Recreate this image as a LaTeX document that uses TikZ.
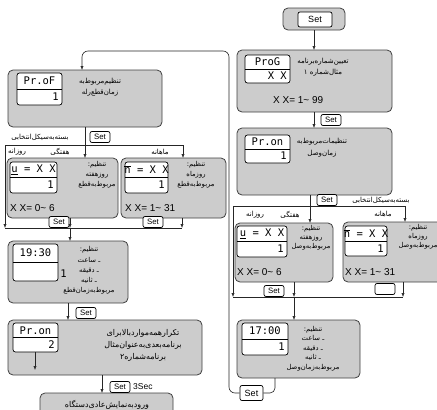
\documentclass[tikz,border=0pt]{standalone}
\usepackage{fontspec}
\setmainfont{Liberation Sans}
\newfontfamily\fafont[Script=Arabic]{DejaVu Sans}
\newfontfamily\segfont{DejaVu Sans Mono}
\TeXXeTstate=1
\usetikzlibrary{arrows.meta}
\newcommand\RL[1]{\beginR #1\endR}
\begin{document}
\begin{tikzpicture}[x=1pt,y=-1pt,
 panel/.style={draw=black!75, fill=black!20, rounded corners=5pt, line width=0.8pt, inner sep=0pt, outer sep=0pt},
 disp/.style={draw=black, fill=white, rounded corners=2.5pt, line width=0.7pt, inner sep=0pt, outer sep=0pt},
 setbox/.style={draw=black, fill=white, rounded corners=2pt, line width=0.7pt, inner sep=0pt, minimum width=20pt, minimum height=11pt, font=\fontsize{7.8}{8}\selectfont},
 conn/.style={line width=0.6pt, draw=black!85},
 arr/.style={conn, -{Latex[length=4pt,width=3.2pt]}},
 fa/.style={font=\fafont\fontsize{7}{10}\selectfont, align=center, inner sep=0pt},
 fab/.style={font=\fafont\fontsize{8}{12}\selectfont, align=center, inner sep=0pt},
 seg/.style={font=\segfont\fontsize{10.5}{12}\selectfont, inner sep=0pt},
 val/.style={font=\fontsize{10}{11}\selectfont, inner sep=0pt, anchor=west},
 divl/.style={line width=0.7pt, draw=black},
]
\clip (0,0) rectangle (437,410);
\useasboundingbox (0,0) rectangle (437,410);

% ---------- panels ----------
\node[panel, minimum width=62pt, minimum height=22pt] (topset) at (314,19) {};
\node[panel, minimum width=155pt, minimum height=62pt] (proG) at (314.5,81) {};
\node[panel, minimum width=155pt, minimum height=67pt] (pron) at (314.5,161.5) {};
\node[panel, minimum width=98pt, minimum height=59pt] (wkR) at (284,252.5) {};
\node[panel, minimum width=102pt, minimum height=60pt] (moR) at (394,252) {};
\node[panel, minimum width=123pt, minimum height=58pt] (c1700) at (298.5,349) {};
\node[panel, minimum width=154pt, minimum height=57pt] (proF) at (85,98.5) {};
\node[panel, minimum width=111pt, minimum height=60pt] (wkL) at (62.5,188) {};
\node[panel, minimum width=105pt, minimum height=60pt] (moL) at (173.5,188) {};
\node[panel, minimum width=120pt, minimum height=62pt] (c1930) at (68,272) {};
\node[panel, minimum width=194pt, minimum height=55pt] (pron2) at (105,347.5) {};
\node[panel, minimum width=133pt, minimum height=30pt] (fin) at (106.5,408) {};

% ---------- displays ----------
\node[disp, minimum width=45pt, minimum height=28pt] (dproG) at (267.5,69) {};
\node[disp, minimum width=45pt, minimum height=28pt] (dpron) at (267.5,149) {};
\node[disp, minimum width=50pt, minimum height=31pt] (dwkR) at (262,241.5) {};
\node[disp, minimum width=42pt, minimum height=30pt] (dmoR) at (366,241) {};
\node[disp, minimum width=46pt, minimum height=32pt] (d1700) at (265,339) {};
\node[disp, minimum width=45pt, minimum height=32pt] (dproF) at (39.5,89) {};
\node[disp, minimum width=47pt, minimum height=31pt] (dwkL) at (33.5,177.5) {};
\node[disp, minimum width=43pt, minimum height=31pt] (dmoL) at (146.5,177.5) {};
\node[disp, minimum width=45pt, minimum height=37pt] (d1930) at (35.5,262.5) {};
\node[disp, minimum width=45pt, minimum height=29pt] (dpron2) at (35.5,337.5) {};
\foreach \d in {dproG,dpron,dwkR,dmoR,d1700,dproF,dwkL,dmoL,d1930,dpron2}
  \draw[divl] (\d.west) -- (\d.east);

% display texts
\node[seg] (g1) at (267.5,62) {ProG};
\node[seg, anchor=east] (g2) at (287,76) {X X};
\node[seg] (g3) at (267.5,142) {Pr.on};
\node[seg, anchor=east] (g4) at (287,156) {1};
\node[seg] (g5) at (262,234) {\underline{u} = X X};
\node[seg, anchor=east] (g6) at (284,249) {1};
\node[seg] (g7) at (366,233.5) {$\overline{\mbox{n}}$ = X X};
\node[seg, anchor=east] (g8) at (384,248.5) {1};
\node[seg] (g9) at (265,331) {17:00};
\node[seg, anchor=east] (g10) at (285,347) {1};
\node[seg] (g11) at (39.5,81) {Pr.oF};
\node[seg, anchor=east] (g12) at (59,97) {1};
\node[seg] (g13) at (33.5,170) {\underline{u} = X X};
\node[seg, anchor=east] (g14) at (54,185) {1};
\node[seg] (g15) at (146.5,170) {$\overline{\mbox{n}}$ = X X};
\node[seg, anchor=east] (g16) at (165,185) {1};
\node[seg] (g17) at (35.5,253) {19:30};
\node[seg, anchor=east] (g18) at (67,274) {1};
\node[seg] (g19) at (35.5,330.5) {Pr.on};
\node[seg, anchor=east] (g20) at (55,345) {2};

% range values
\node[val] (v1) at (273,100) {X X= 1\textasciitilde\ 99};
\node[val] (v2) at (237,272) {X X= 0\textasciitilde\ 6};
\node[val] (v3) at (345,272) {X X= 1\textasciitilde\ 31};
\node[val] (v4) at (10,208) {X X= 0\textasciitilde\ 6};
\node[val] (v5) at (125,208) {X X= 1\textasciitilde\ 31};

% persian texts
\node[fa, font=\fafont\fontsize{7}{11}\selectfont] (t1) at (323,67.5) {\RL{تعیین^^^^200cشماره^^^^200cبرنامه}\\\RL{مثال^^^^200cشماره ۱}};
\node[fa, font=\fafont\fontsize{7}{12}\selectfont] (t2) at (322,148) {\RL{تنظیمات^^^^200cمربوط^^^^200cبه}\\\RL{زمان^^^^200cوصل}};
\node[fa, font=\fafont\fontsize{7}{11}\selectfont] (t3) at (100,87) {\RL{تنظیم^^^^200cمربوط^^^^200cبه}\\\RL{زمان^^^^200cقطع^^^^200cرله}};
\node[fa] (t4) at (381,200) {\RL{بسته^^^^200cبه^^^^200cسیکل^^^^200cانتخابی}};
\node[fa] (t5) at (40,137) {\RL{بسته^^^^200cبه^^^^200cسیکل^^^^200cانتخابی}};
\node[fa] (t6) at (383,214) {\RL{ماهانه}};
\node[fa] (t7) at (290,215) {\RL{هفتگی}};
\node[fa] (t8) at (255,215) {\RL{روزانه}};
\node[fa] (t9) at (160,152) {\RL{ماهانه}};
\node[fa] (t10) at (60,152) {\RL{هفتگی}};
\node[fa] (t11) at (17,152) {\RL{روزانه}};
\node[fa, font=\fafont\fontsize{6.8}{9}\selectfont] (t12) at (311,238) {\RL{تنظیم:}\\\RL{روزهفته}\\\RL{مربوط^^^^200cبه^^^^200cوصل}};
\node[fa, font=\fafont\fontsize{6.8}{9}\selectfont] (t13) at (418,237) {\RL{تنظیم:}\\\RL{روزماه}\\\RL{مربوط^^^^200cبه^^^^200cوصل}};
\node[fa, font=\fafont\fontsize{6.8}{10}\selectfont] (t14) at (97,175) {\RL{تنظیم:}\\\RL{روزهفته}\\\RL{مربوط^^^^200cبه^^^^200cقطع}};
\node[fa, font=\fafont\fontsize{6.8}{10}\selectfont] (t15) at (196,175) {\RL{تنظیم:}\\\RL{روزماه}\\\RL{مربوط^^^^200cبه^^^^200cقطع}};
\node[fa, font=\fafont\fontsize{6.8}{9.6}\selectfont] (t16) at (313,348.5) {\RL{تنظیم:}\\\RL{ـ ساعت}\\\RL{ـ دقیقه}\\\RL{ـ ثانیه}\\\RL{مربوط^^^^200cبه^^^^200cزمان^^^^200cوصل}};
\node[fa, font=\fafont\fontsize{6.8}{10.2}\selectfont] (t17) at (89,270.5) {\RL{تنظیم:}\\\RL{ـ ساعت}\\\RL{ـ دقیقه}\\\RL{ـ ثانیه}\\\RL{مربوط^^^^200cبه^^^^200cزمان^^^^200cقطع}};
\node[fab] (t18) at (143,345) {\RL{تکرار^^^^200cهمه^^^^200cموارد^^^^200cبالا^^^^200cبرای}\\\RL{برنامه^^^^200cبعدی^^^^200cبه^^^^200cعنوان^^^^200cمثال}\\\RL{برنامه^^^^200cشماره۲}};
\node[fab] (t19) at (107,405) {\RL{ورود^^^^200cبه^^^^200cنمایش^^^^200cعادی^^^^200cدستگاه}};
\node[font=\fontsize{8.5}{9}\selectfont, inner sep=0pt, anchor=west] (t20) at (133,387) {3Sec};

% ---------- set boxes ----------
\node[setbox, minimum width=34pt, minimum height=15pt, font=\fontsize{9}{10}\selectfont] (s1) at (315,19.5) {Set};
\node[setbox] (s2) at (331,120) {Set};
\node[setbox] (s3) at (327,200) {Set};
\node[setbox] (s4) at (274,291) {Set};
\node[setbox] (s5) at (385,289) {};
\node[setbox] (s6) at (100,137) {Set};
\node[setbox, minimum width=23pt, minimum height=15pt, font=\fontsize{9}{10}\selectfont] (s7) at (251.5,393) {Set};
\node[setbox] (s8) at (59,222) {Set};
\node[setbox] (s9) at (153,222) {Set};
\node[setbox] (s10) at (86,313) {Set};
\node[setbox] (s11) at (120,387) {Set};

% ---------- coordinates ----------
\coordinate (hRl) at (233,206); \coordinate (hRr) at (405,206);
\coordinate (bRl) at (233,297); \coordinate (bRr) at (403,297);
\coordinate (hLl) at (5,145);   \coordinate (hLr) at (183,145);
\coordinate (bLl) at (5,228);   \coordinate (bLr) at (182,228);
\coordinate (xa) at (310,0); \coordinate (xb) at (294,0); \coordinate (xc) at (275,0);
\coordinate (loopc) at (229,51); \coordinate (xd) at (82,0);
\coordinate (xe) at (85,0); \coordinate (xf) at (70,0); \coordinate (xg) at (68,0);
\coordinate (xh) at (102,0); \coordinate (xi) at (35,0);
\coordinate (p2end) at (35,370);

% ---------- connectors ----------
\draw[arr] (topset.south) -- (topset.south |- proG.north);
\draw[arr] (topset.south |- proG.south) -- (topset.south |- pron.north);
\draw[arr] (xa |- pron.south) -- (xa |- wkR.north);
\draw[conn] (hRl) -- (hRr);
\draw[arr] (hRr) -- (hRr |- moR.north);
\draw[arr] (hRl) -- (bRl);
\draw[conn] (bRl) -- (bRr);
\draw[arr] (xb |- wkR.south) -- (xb |- bRl);
\draw[arr] (xb |- bRl) -- (xb |- c1700.north);
\draw[arr] (bRr |- moR.south) -- (bRr);
\draw[conn, rounded corners=5pt] (xc |- c1700.south) |- (s7.east);
\draw[arr, rounded corners=6pt] (s7.west) -| (loopc) -| (xd |- proF.north);

\draw[arr] (xe |- proF.south) -- (xe |- wkL.north);
\draw[conn] (hLl) -- (hLr);
\draw[arr] (hLr) -- (hLr |- moL.north);
\draw[arr] (hLl) -- (bLl);
\draw[conn] (bLl) -- (bLr);
\draw[arr] (xf |- wkL.south) -- (xf |- bLl);
\draw[arr] (xf |- bLl) -- (xf |- c1930.north);
\draw[arr] (bLr |- moL.south) -- (bLr);
\draw[arr] (xg |- c1930.south) -- (xg |- pron2.north);
\draw[arr] (xi |- dpron2.south) -- (p2end);
\draw[arr] (xh |- pron2.south) -- (xh |- fin.north);
\end{tikzpicture}
\end{document}
